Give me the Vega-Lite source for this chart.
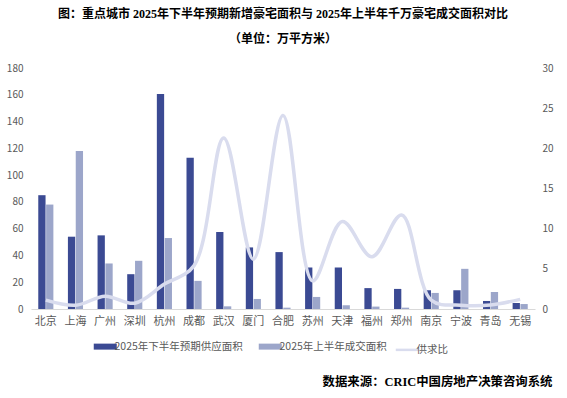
{
  "$schema": "https://vega.github.io/schema/vega-lite/v6.json",
  "width": 504,
  "height": 241,
  "autosize": "none",
  "padding": {"left": 31, "top": 68, "right": 32, "bottom": 89},
  "background": "white",
  "config": {
    "view": {"stroke": null},
    "font": "Noto Sans CJK SC"
  },
  "title": {
    "text": ["图：重点城市 2025年下半年预期新增豪宅面积与 2025年上半年千万豪宅成交面积对比", "（单位：万平方米）"],
    "font": "Liberation Serif, Noto Sans CJK SC",
    "fontSize": 12,
    "fontWeight": "bold",
    "color": "#000000",
    "lineHeight": 25,
    "anchor": "middle",
    "frame": "group",
    "offset": 17
  },
  "datasets": {
    "bars": [
      {"city": "北京", "series": "2025年下半年预期供应面积", "value": 85},
      {"city": "北京", "series": "2025年上半年成交面积", "value": 78},
      {"city": "上海", "series": "2025年下半年预期供应面积", "value": 54},
      {"city": "上海", "series": "2025年上半年成交面积", "value": 118},
      {"city": "广州", "series": "2025年下半年预期供应面积", "value": 55},
      {"city": "广州", "series": "2025年上半年成交面积", "value": 34},
      {"city": "深圳", "series": "2025年下半年预期供应面积", "value": 26},
      {"city": "深圳", "series": "2025年上半年成交面积", "value": 36},
      {"city": "杭州", "series": "2025年下半年预期供应面积", "value": 160.5},
      {"city": "杭州", "series": "2025年上半年成交面积", "value": 53},
      {"city": "成都", "series": "2025年下半年预期供应面积", "value": 113},
      {"city": "成都", "series": "2025年上半年成交面积", "value": 21},
      {"city": "武汉", "series": "2025年下半年预期供应面积", "value": 57.5},
      {"city": "武汉", "series": "2025年上半年成交面积", "value": 2},
      {"city": "厦门", "series": "2025年下半年预期供应面积", "value": 46},
      {"city": "厦门", "series": "2025年上半年成交面积", "value": 7.5},
      {"city": "合肥", "series": "2025年下半年预期供应面积", "value": 42.5},
      {"city": "合肥", "series": "2025年上半年成交面积", "value": 1},
      {"city": "苏州", "series": "2025年下半年预期供应面积", "value": 31},
      {"city": "苏州", "series": "2025年上半年成交面积", "value": 9},
      {"city": "天津", "series": "2025年下半年预期供应面积", "value": 31},
      {"city": "天津", "series": "2025年上半年成交面积", "value": 2.8},
      {"city": "福州", "series": "2025年下半年预期供应面积", "value": 15.6},
      {"city": "福州", "series": "2025年上半年成交面积", "value": 1.8},
      {"city": "郑州", "series": "2025年下半年预期供应面积", "value": 15},
      {"city": "郑州", "series": "2025年上半年成交面积", "value": 1},
      {"city": "南京", "series": "2025年下半年预期供应面积", "value": 14},
      {"city": "南京", "series": "2025年上半年成交面积", "value": 12},
      {"city": "宁波", "series": "2025年下半年预期供应面积", "value": 14},
      {"city": "宁波", "series": "2025年上半年成交面积", "value": 30},
      {"city": "青岛", "series": "2025年下半年预期供应面积", "value": 6},
      {"city": "青岛", "series": "2025年上半年成交面积", "value": 12.7},
      {"city": "无锡", "series": "2025年下半年预期供应面积", "value": 4.5},
      {"city": "无锡", "series": "2025年上半年成交面积", "value": 3.7}
    ],
    "ratio": [
      {"city": "北京", "ratio": 1.1},
      {"city": "上海", "ratio": 0.46},
      {"city": "广州", "ratio": 1.6},
      {"city": "深圳", "ratio": 0.72},
      {"city": "杭州", "ratio": 3.1},
      {"city": "成都", "ratio": 5.4},
      {"city": "武汉", "ratio": 21.3},
      {"city": "厦门", "ratio": 6.2},
      {"city": "合肥", "ratio": 24.1},
      {"city": "苏州", "ratio": 3.5},
      {"city": "天津", "ratio": 10.9},
      {"city": "福州", "ratio": 6.5},
      {"city": "郑州", "ratio": 11.7},
      {"city": "南京", "ratio": 1.1},
      {"city": "宁波", "ratio": 0.47},
      {"city": "青岛", "ratio": 0.5},
      {"city": "无锡", "ratio": 1.2}
    ]
  },
  "layer": [
    {
      "data": {"name": "bars"},
      "mark": {"type": "bar"},
      "encoding": {
        "x": {
          "field": "city", "type": "nominal", "sort": null,
          "scale": {"paddingInner": 0.49, "paddingOuter": 0.245},
          "axis": {
            "title": "数据来源：CRIC中国房地产决策咨询系统",
            "titleFont": "Liberation Serif, Noto Sans CJK SC",
            "titleFontSize": 12.4,
            "titleFontWeight": "bold",
            "titleColor": "#000000",
            "titleAnchor": "end",
            "titleAlign": "right",
            "titleBaseline": "middle",
            "titleX": 521,
            "titleY": 72,
            "labelAngle": 0,
            "labelFontSize": 11,
            "labelColor": "#595959",
            "labelPadding": 6,
            "ticks": false,
            "domainColor": "#D9D9D9",
            "domainWidth": 1
          }
        },
        "xOffset": {
          "field": "series", "type": "nominal",
          "scale": {"domain": ["2025年下半年预期供应面积", "2025年上半年成交面积"], "paddingInner": 0.07}
        },
        "y": {
          "field": "value", "type": "quantitative",
          "scale": {"domain": [0, 180]},
          "axis": {
            "title": null,
            "values": [0, 20, 40, 60, 80, 100, 120, 140, 160, 180],
            "grid": false,
            "domain": false,
            "ticks": false,
            "labelFontSize": 10,
            "labelColor": "#595959",
            "labelPadding": 8
          }
        },
        "color": {
          "field": "series", "type": "nominal",
          "scale": {
            "domain": ["2025年下半年预期供应面积", "2025年上半年成交面积", "供求比"],
            "range": ["#3B4A93", "#9CA6CA", "#D9DCEE"]
          },
          "legend": {
            "title": null,
            "orient": "none",
            "direction": "horizontal",
            "legendX": 69,
            "legendY": 273,
            "labelFontSize": 10.5,
            "labelColor": "#595959",
            "symbolType": "stroke",
            "symbolSize": 529,
            "symbolStrokeWidth": 6,
            "columnPadding": 3,
            "labelOffset": 4,
            "encode": {
              "symbols": {
                "update": {
                  "shape": {"value": "stroke"},
                  "stroke": {"signal": "datum.value === '供求比' ? '#D9DCEE' : datum.value === '2025年上半年成交面积' ? '#9CA6CA' : '#3B4A93'"},
                  "strokeWidth": {"signal": "datum.value === '供求比' ? 2.5 : 6"}
                }
              }
            }
          }
        }
      }
    },
    {
      "data": {"name": "ratio"},
      "mark": {"type": "line", "interpolate": "catmull-rom", "strokeWidth": 3.5},
      "encoding": {
        "x": {"field": "city", "type": "nominal", "sort": null},
        "y": {
          "field": "ratio", "type": "quantitative",
          "scale": {"domain": [0, 30]},
          "axis": {
            "title": null,
            "orient": "right",
            "values": [0, 5, 10, 15, 20, 25, 30],
            "grid": false,
            "domain": false,
            "ticks": false,
            "labelFontSize": 10,
            "labelColor": "#595959",
            "labelPadding": 7
          }
        },
        "color": {"datum": "供求比"}
      }
    }
  ],
  "resolve": {"scale": {"y": "independent"}}
}
